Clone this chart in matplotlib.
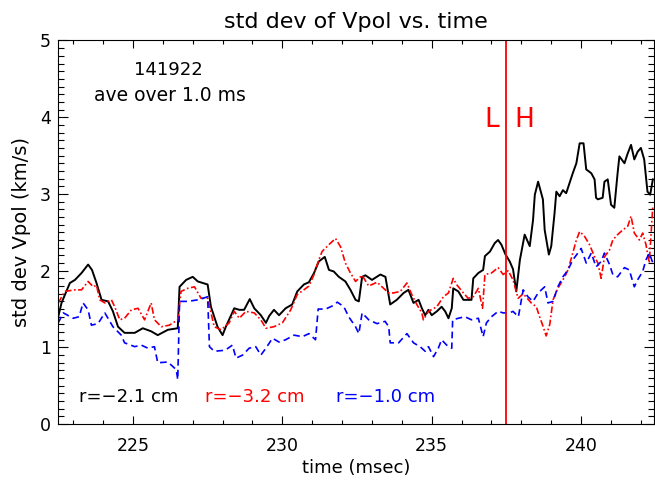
"""
std dev of Vpol vs. time, shot 141922 (1.0 ms average), three radii.
Redraw of the IDL plot with matplotlib.
"""

import matplotlib

matplotlib.use("Agg")
import matplotlib.pyplot as plt
from matplotlib.ticker import MultipleLocator

# ------------------------------------------------------------------ data
t_black = [222.5, 222.61, 222.89, 223.06, 223.28, 223.5, 223.63, 223.78, 223.95, 224.17,
           224.33, 224.5, 224.72, 225.06, 225.33, 225.61, 225.83, 226.17, 226.5, 226.56,
           226.78, 227.0, 227.17, 227.5, 227.61, 227.83, 228.0, 228.11, 228.39, 228.56,
           228.72, 228.91, 229.06, 229.28, 229.45, 229.56, 229.72, 229.89, 230.11, 230.33,
           230.5, 230.72, 230.89, 231.06, 231.22, 231.42, 231.56, 231.72, 231.89, 232.11,
           232.28, 232.45, 232.56, 232.67, 232.78, 233.0, 233.28, 233.45, 233.61, 233.83,
           234.06, 234.22, 234.39, 234.56, 234.67, 234.78, 234.89, 235.0, 235.17, 235.33,
           235.45, 235.56, 235.67, 235.72, 235.89, 236.06, 236.22, 236.33, 236.39, 236.56,
           236.72, 236.78, 236.95, 237.11, 237.22, 237.33, 237.47, 237.61, 237.72, 237.83,
           237.95, 238.11, 238.28, 238.39, 238.45, 238.56, 238.72, 238.78, 238.92, 239.0,
           239.11, 239.17, 239.28, 239.39, 239.5, 239.61, 239.72, 239.84, 239.95, 240.08,
           240.17, 240.34, 240.45, 240.5, 240.56, 240.72, 240.78, 240.89, 241.0, 241.11,
           241.22, 241.28, 241.45, 241.56, 241.67, 241.78, 241.89, 242.0, 242.11, 242.22,
           242.31, 242.4]
v_black = [1.40, 1.58, 1.84, 1.88, 1.97, 2.08, 2.01, 1.84, 1.62, 1.60,
           1.47, 1.27, 1.19, 1.19, 1.25, 1.21, 1.16, 1.23, 1.25, 1.79,
           1.88, 1.92, 1.86, 1.82, 1.53, 1.27, 1.16, 1.27, 1.51, 1.49,
           1.49, 1.63, 1.51, 1.42, 1.32, 1.41, 1.49, 1.42, 1.51, 1.56,
           1.73, 1.82, 1.85, 1.97, 2.12, 2.18, 2.01, 1.99, 1.92, 1.86,
           1.75, 1.62, 1.60, 1.92, 1.94, 1.88, 1.95, 1.92, 1.56, 1.62,
           1.71, 1.75, 1.58, 1.62, 1.51, 1.42, 1.49, 1.42, 1.47, 1.53,
           1.47, 1.38, 1.51, 1.77, 1.73, 1.62, 1.62, 1.62, 1.90, 1.97,
           2.01, 2.19, 2.25, 2.36, 2.40, 2.34, 2.21, 2.12, 2.02, 1.73,
           2.14, 2.47, 2.32, 2.66, 2.99, 3.16, 2.93, 2.53, 2.21, 2.32,
           2.75, 3.03, 2.97, 3.05, 3.01, 3.14, 3.27, 3.40, 3.66, 3.66,
           3.32, 3.27, 3.19, 2.95, 2.93, 2.95, 3.16, 3.19, 2.86, 2.82,
           3.27, 3.49, 3.40, 3.53, 3.64, 3.45, 3.55, 3.60, 3.45, 3.03,
           2.99, 3.19]

t_red = [222.5, 222.72, 223.06, 223.28, 223.5, 223.67, 223.78, 223.89, 224.06, 224.28,
         224.39, 224.56, 224.72, 224.95, 225.17, 225.39, 225.61, 225.72, 225.95, 226.22,
         226.5, 226.61, 226.83, 227.06, 227.28, 227.5, 227.72, 227.95, 228.22, 228.39,
         228.56, 228.78, 229.06, 229.28, 229.45, 229.72, 230.0, 230.28, 230.5, 230.72,
         230.89, 231.06, 231.22, 231.33, 231.56, 231.78, 231.95, 232.11, 232.28, 232.45,
         232.67, 232.89, 233.17, 233.39, 233.56, 233.72, 233.95, 234.17, 234.33, 234.5,
         234.67, 234.72, 234.89, 235.17, 235.39, 235.56, 235.72, 235.83, 236.06, 236.22,
         236.39, 236.56, 236.7, 236.78, 237.0, 237.22, 237.39, 237.56, 237.72, 237.89,
         238.06, 238.33, 238.5, 238.61, 238.72, 238.83, 238.95, 239.06, 239.22, 239.45,
         239.56, 239.72, 239.84, 239.95, 240.11, 240.28, 240.45, 240.56, 240.67, 240.78,
         240.95, 241.06, 241.22, 241.39, 241.56, 241.67, 241.78, 241.95, 242.06, 242.17,
         242.28, 242.4]
v_red = [1.58, 1.73, 1.75, 1.75, 1.86, 1.79, 1.81, 1.62, 1.58, 1.62,
         1.53, 1.36, 1.38, 1.49, 1.51, 1.36, 1.58, 1.36, 1.27, 1.29,
         1.36, 1.73, 1.77, 1.79, 1.64, 1.64, 1.27, 1.23, 1.32, 1.47,
         1.38, 1.47, 1.45, 1.36, 1.25, 1.27, 1.32, 1.49, 1.69, 1.75,
         1.80, 1.95, 2.14, 2.25, 2.34, 2.42, 2.31, 2.10, 1.97, 1.86,
         1.94, 1.80, 1.85, 1.77, 1.71, 1.71, 1.73, 1.84, 1.69, 1.56,
         1.45, 1.36, 1.47, 1.53, 1.66, 1.71, 1.90, 1.82, 1.71, 1.64,
         1.66, 1.77, 1.51, 1.95, 1.97, 2.04, 1.95, 2.00, 1.88, 1.64,
         1.70, 1.58, 1.53, 1.40, 1.28, 1.15, 1.30, 1.62, 1.77, 1.92,
         2.01, 2.23, 2.40, 2.51, 2.45, 2.34, 2.18, 2.10, 1.90, 2.18,
         2.27, 2.40, 2.47, 2.53, 2.58, 2.71, 2.49, 2.40, 2.49, 2.34,
         2.10, 2.85]

t_blue = [222.5, 222.67, 223.0, 223.2, 223.33, 223.5, 223.61, 223.83, 224.06, 224.33,
          224.61, 224.72, 225.06, 225.28, 225.5, 225.72, 225.83, 226.17, 226.45, 226.5,
          226.56, 226.83, 227.17, 227.5, 227.56, 227.72, 228.0, 228.11, 228.33, 228.45,
          228.67, 228.89, 229.11, 229.28, 229.45, 229.67, 229.89, 230.11, 230.39, 230.67,
          230.89, 231.11, 231.2, 231.45, 231.67, 231.84, 232.06, 232.22, 232.45, 232.56,
          232.67, 232.89, 233.17, 233.44, 233.56, 233.61, 233.89, 234.17, 234.39, 234.61,
          234.78, 234.89, 235.06, 235.22, 235.33, 235.5, 235.67, 235.7, 235.89, 236.11,
          236.33, 236.56, 236.72, 236.83, 237.0, 237.22, 237.39, 237.61, 237.72, 237.9,
          238.06, 238.22, 238.39, 238.56, 238.78, 238.89, 239.06, 239.22, 239.39, 239.56,
          239.72, 239.89, 240.0, 240.17, 240.34, 240.5, 240.67, 240.78, 240.95, 241.06,
          241.22, 241.45, 241.61, 241.78, 241.89, 242.06, 242.17, 242.28, 242.4]
v_blue = [1.32, 1.45, 1.38, 1.40, 1.58, 1.49, 1.29, 1.31, 1.45, 1.27,
          1.16, 1.06, 1.01, 1.03, 0.99, 1.01, 0.80, 0.81, 0.71, 0.58,
          1.60, 1.60, 1.62, 1.66, 1.01, 0.95, 0.96, 0.97, 1.03, 0.86,
          0.90, 0.99, 1.01, 0.90, 0.99, 1.12, 1.07, 1.10, 1.16, 1.14,
          1.18, 1.10, 1.50, 1.50, 1.54, 1.59, 1.53, 1.40, 1.27, 1.18,
          1.45, 1.36, 1.31, 1.34, 1.27, 1.06, 1.06, 1.18, 1.06, 1.01,
          0.95, 1.01, 0.88, 0.99, 1.10, 1.03, 0.99, 1.36, 1.38, 1.40,
          1.36, 1.38, 1.14, 1.32, 1.40, 1.47, 1.45, 1.45, 1.47, 1.40,
          1.75, 1.66, 1.60, 1.71, 1.79, 1.58, 1.60, 1.79, 1.92, 2.01,
          2.14, 2.23, 2.29, 2.10, 2.23, 2.05, 2.12, 2.23, 2.08, 1.95,
          1.92, 2.04, 2.01, 1.79, 1.88, 1.99, 2.14, 2.23, 2.10]

t_transicao = 237.5  # L-H transition (msec)
shot = "141922"
media = "ave over 1.0 ms"
rotulos = ["r=\u22122.1 cm", "r=\u22123.2 cm", "r=\u22121.0 cm"]

# ------------------------------------------------------------------ figure
plt.rcParams["font.family"] = ["DejaVu Sans"]

fig = plt.figure(figsize=(6.55, 4.82), dpi=100)
ax = fig.add_axes([0.088, 0.12, 0.911, 0.796])

ax.plot(t_black, v_black, color="black", lw=1.4)
ax.plot(t_red, v_red, color="red", lw=1.2, ls=(0, (4, 1.5, 1, 1.5)))
ax.plot(t_blue, v_blue, color="blue", lw=1.2, ls=(0, (4, 2.5)))
ax.axvline(t_transicao, color="red", lw=1.3)

ax.set_xlim(222.48, 242.45)
ax.set_ylim(0, 5)

# IDL-style axes: inward ticks on all four sides
ax.xaxis.set_major_locator(MultipleLocator(5))
ax.xaxis.set_minor_locator(MultipleLocator(1))
ax.yaxis.set_major_locator(MultipleLocator(1))
ax.yaxis.set_minor_locator(MultipleLocator(0.1))
ax.tick_params(which="both", direction="in", top=True, right=True, width=0.8)
ax.tick_params(which="major", axis="x", length=6, pad=9, labelsize=12.5)
ax.tick_params(which="minor", axis="x", length=3)
ax.tick_params(which="major", axis="y", length=7, pad=5, labelsize=12.5)
ax.tick_params(which="minor", axis="y", length=4)
for lado in ax.spines.values():
    lado.set_linewidth(0.8)

ax.set_title("std dev of Vpol vs. time", fontsize=16, pad=9)
ax.set_xlabel("time (msec)", fontsize=13, labelpad=3)
ax.set_ylabel("std dev Vpol (km/s)", fontsize=14, labelpad=6)

# annotations
ax.text(226.2, 4.62, shot, fontsize=13, ha="center", va="center")
ax.text(223.7, 4.28, media, fontsize=13.5, ha="left", va="center")
ax.text(t_transicao - 0.25, 3.97, "L", color="red", fontsize=19, ha="right", va="center")
ax.text(t_transicao + 0.25, 3.97, "H", color="red", fontsize=19, ha="left", va="center")

for x0, txt, cor in zip([223.2, 227.42, 231.8], rotulos, ["black", "red", "blue"]):
    ax.text(x0, 0.36, txt, color=cor, fontsize=13, ha="left", va="center")

fig.savefig("out.png", dpi=100)
